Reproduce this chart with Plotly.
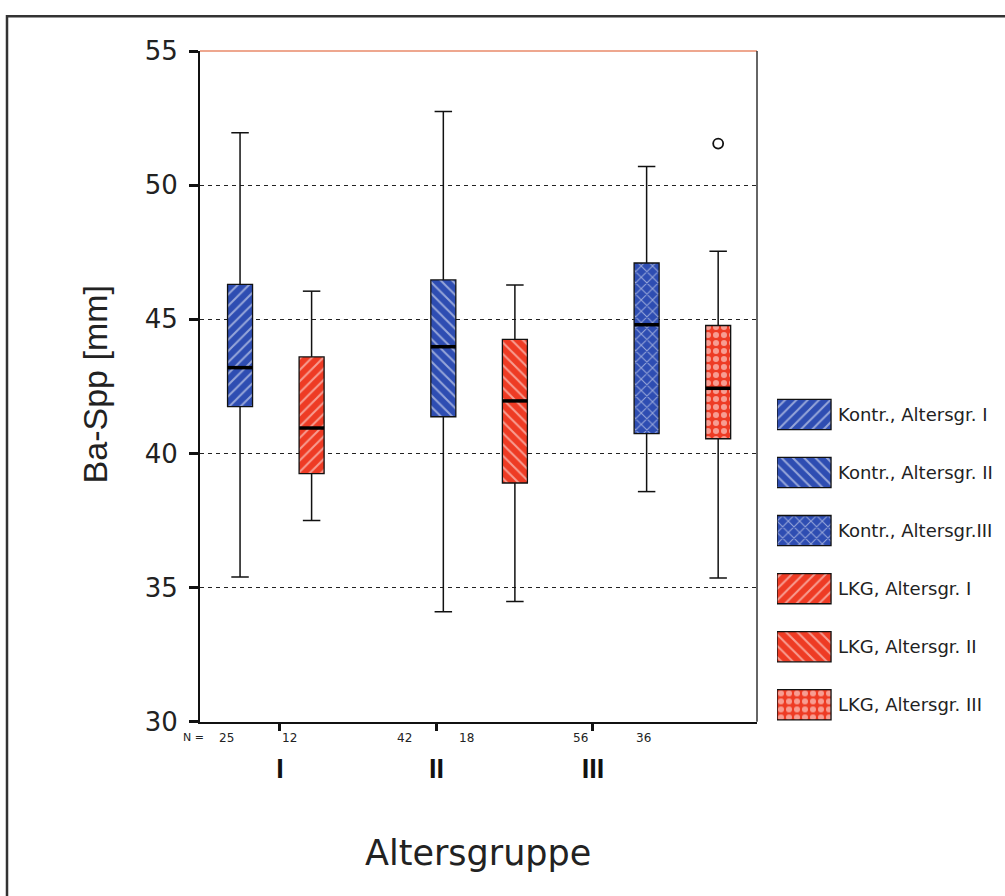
import plotly.graph_objects as go

# ---------------- data ----------------
groups = ["I", "II", "III"]
series = ["Kontr.", "LKG"]
# per box, ordered along x: Kontr I, LKG I, Kontr II, LKG II, Kontr III, LKG III
box_group = ["I", "I", "II", "II", "III", "III"]
box_series = ["Kontr.", "LKG", "Kontr.", "LKG", "Kontr.", "LKG"]
whisker_low = [35.4, 37.5, 34.1, 34.48, 38.58, 35.36]
q1 = [41.75, 39.25, 41.37, 38.9, 40.74, 40.55]
median = [43.2, 40.95, 43.98, 41.96, 44.8, 42.43]
q3 = [46.3, 43.6, 46.47, 44.25, 47.1, 44.77]
whisker_high = [51.95, 46.05, 52.75, 46.28, 50.7, 47.54]
n_counts = [25, 12, 42, 18, 56, 36]
outlier_box = [5]
outlier_val = [51.55]
legend_labels = ["Kontr., Altersgr. I", "Kontr., Altersgr. II", "Kontr., Altersgr.III",
                 "LKG, Altersgr. I", "LKG, Altersgr. II", "LKG, Altersgr. III"]
legend_series = ["Kontr.", "Kontr.", "Kontr.", "LKG", "LKG", "LKG"]
legend_group = ["I", "II", "III", "I", "II", "III"]
y_ticks = [30, 35, 40, 45, 50, 55]

# ---------------- styles / layout constants ----------------
W, HF = 1005, 912
OFF, VS = 15, 0.966   # vertical placement of the figure in the photographed page
FONT = "Liberation Sans, Arial, sans-serif"
WFONT = "DejaVu Sans, Liberation Sans, sans-serif"
fill_col = {"Kontr.": "#2e4db2", "LKG": "#ee3b24"}
hatch_col = {"Kontr.": "#c68ad6", "LKG": "#f99c7c"}
hatch = {("Kontr.", "I"): "/", ("Kontr.", "II"): "\\", ("Kontr.", "III"): "x",
         ("LKG", "I"): "/", ("LKG", "II"): "\\", ("LKG", "III"): "."}
hatch_solid = {"/": 0.25, "\\": 0.25, "x": 0.25, ".": 0.45}
series_offset = {"Kontr.": -0.176, "LKG": 0.176}
box_w = 0.123
cap_half = 0.043
cat_tick_pos = [1.02, 1.79, 2.56]
n_label_pos = [0.759, 1.065, 1.631, 1.939, 2.501, 2.811]

def px_x(p):
    return p / W

def px_y(p):
    return 1 - ((p - OFF) / VS) / HF

xpos = [groups.index(g) + 1 + series_offset[s] for g, s in zip(box_group, box_series)]

fig = go.Figure()

box_shapes = [hatch[(s, g)] for s, g in zip(box_series, box_group)]
fig.add_trace(go.Bar(
    x=xpos, base=q1, y=[b - a for a, b in zip(q1, q3)], width=[box_w] * len(xpos),
    marker=dict(
        color=[fill_col[s] for s in box_series],
        line=dict(color="#111", width=1.3),
        pattern=dict(shape=box_shapes,
                     fgcolor=[hatch_col[s] for s in box_series],
                     size=8, solidity=[hatch_solid[h] for h in box_shapes], fillmode="overlay"),
    ),
    xaxis="x", yaxis="y", hoverinfo="skip",
))

# whiskers
wx, wy = [], []
for x, lo, a, b, hi in zip(xpos, whisker_low, q1, q3, whisker_high):
    wx += [x, x, None, x, x, None, x - cap_half, x + cap_half, None, x - cap_half, x + cap_half, None]
    wy += [b, hi, None, a, lo, None, hi, hi, None, lo, lo, None]
fig.add_trace(go.Scatter(x=wx, y=wy, mode="lines", line=dict(color="#111", width=1.5),
                         hoverinfo="skip", xaxis="x", yaxis="y"))

# medians
mx, my = [], []
for x, m in zip(xpos, median):
    mx += [x - box_w / 2, x + box_w / 2, None]
    my += [m, m, None]
fig.add_trace(go.Scatter(x=mx, y=my, mode="lines", line=dict(color="#000", width=3.5),
                         hoverinfo="skip", xaxis="x", yaxis="y"))

# outliers
fig.add_trace(go.Scatter(x=[xpos[i] for i in outlier_box], y=outlier_val, mode="markers",
                         marker=dict(symbol="circle-open", size=10, color="#111", line=dict(width=1.8)),
                         hoverinfo="skip", xaxis="x", yaxis="y"))

# custom legend with patterned swatches
leg_shapes = [hatch[(s, g)] for s, g in zip(legend_series, legend_group)]
fig.add_trace(go.Bar(
    y=list(range(len(legend_labels))), x=[0.237] * len(legend_labels), base=0,
    orientation="h", width=0.52,
    marker=dict(
        color=[fill_col[s] for s in legend_series],
        line=dict(color="#111", width=1.3),
        pattern=dict(shape=leg_shapes,
                     fgcolor=[hatch_col[s] for s in legend_series],
                     size=8, solidity=[hatch_solid[h] for h in leg_shapes], fillmode="overlay"),
    ),
    xaxis="x2", yaxis="y2", hoverinfo="skip",
))

annotations = []
for i, lab in enumerate(legend_labels):
    annotations.append(dict(x=0.26, y=i, xref="x2", yref="y2", text=lab, showarrow=False,
                            xanchor="left", yanchor="middle",
                            font=dict(family=WFONT, size=18, color="#222")))

# N = labels
annotations.append(dict(x=px_x(193), y=px_y(737), xref="paper", yref="paper", text="N =",
                        showarrow=False, xanchor="center", yanchor="middle",
                        font=dict(family=WFONT, size=11, color="#222")))
for p, n in zip(n_label_pos, n_counts):
    annotations.append(dict(x=p, y=px_y(737), xref="x", yref="paper", text=str(n),
                            showarrow=False, xanchor="center", yanchor="middle",
                            font=dict(family=WFONT, size=12, color="#222")))

# axis titles
annotations.append(dict(x=px_x(95), y=px_y(384), xref="paper", yref="paper", text="Ba-Spp [mm]",
                        textangle=-90, showarrow=False, xanchor="center", yanchor="middle",
                        font=dict(family=FONT, size=34, color="#222")))
annotations.append(dict(x=px_x(478), y=px_y(852), xref="paper", yref="paper", text="Altersgruppe",
                        showarrow=False, xanchor="center", yanchor="middle",
                        font=dict(family=WFONT, size=35, color="#222")))

shapes = [
    dict(type="rect", xref="paper", yref="paper", x0=px_x(7), x1=1.05, y0=-0.05, y1=0.9985,
         line=dict(color="#333", width=2.5)),
    dict(type="line", xref="x domain", yref="y domain", x0=0, x1=1, y0=1, y1=1,
         line=dict(color="#e88a6a", width=1.5)),
    dict(type="line", xref="x domain", yref="y domain", x0=1, x1=1, y0=0, y1=1,
         line=dict(color="#333", width=1.5)),
]

fig.update_layout(
    width=W, height=HF, margin=dict(l=0, r=0, t=0, b=0),
    paper_bgcolor="white", plot_bgcolor="white",
    showlegend=False, hovermode=False, barmode="overlay",
    font=dict(family=FONT, color="#222"),
    xaxis=dict(domain=[px_x(200), px_x(757)], range=[0.627, 3.367],
               tickmode="array", tickvals=cat_tick_pos, ticktext=groups,
               ticks="outside", ticklen=7, tickwidth=3, tickcolor="#111",
               tickfont=dict(family=FONT, size=27, color="#111", weight="bold"),
               ticklabelstandoff=15,
               showline=True, linecolor="#111", linewidth=2,
               showgrid=False, zeroline=False, fixedrange=True),
    yaxis=dict(domain=[px_y(721), px_y(51)], range=[30, 55],
               tickmode="array", tickvals=y_ticks,
               ticks="outside", ticklen=9, tickwidth=3, tickcolor="#111",
               tickfont=dict(family=WFONT, size=26, color="#222"),
               ticklabelstandoff=6,
               showline=True, linecolor="#111", linewidth=2,
               showgrid=True, gridcolor="#222", gridwidth=1.4, griddash="4px,4px",
               zeroline=False, fixedrange=True),
    xaxis2=dict(domain=[px_x(777), 1.0], range=[0, 1], visible=False, fixedrange=True, anchor="y2"),
    yaxis2=dict(domain=[px_y(733), px_y(385)], range=[5.5, -0.5], visible=False, fixedrange=True, anchor="x2"),
    annotations=annotations,
    shapes=shapes,
)

page_fix = ("document.documentElement.style.margin='0';"
            "document.documentElement.style.overflow='hidden';"
            "document.body.style.margin='0';"
            "document.body.style.overflow='hidden';"
            "document.body.style.lineHeight='0';"
            "document.body.style.fontSize='0';")

fig.write_html("out.html", config={"displayModeBar": False}, post_script=page_fix)
